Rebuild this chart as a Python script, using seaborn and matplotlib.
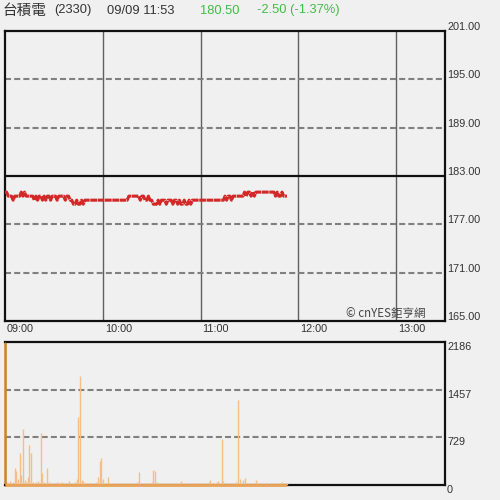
import matplotlib
matplotlib.use("Agg")
import matplotlib.pyplot as plt
import seaborn as sns
import numpy as np
import pandas as pd

sns.set_theme(style="white")
plt.rcParams['font.family'] = ['Liberation Sans', 'Noto Sans CJK TC', 'DejaVu Sans']

## 資料：09:00 起每分鐘 (0 = 09:00)
price = [
    181.0, 181.0, 180.5, 180.5, 180.5, 180.0, 180.5, 180.5, 180.5, 180.5,
    181.0, 180.5, 181.0, 180.5, 180.5, 180.5, 180.5, 180.5, 180.0, 180.5,
    180.0, 180.5, 180.5, 180.0, 180.5, 180.0, 180.5, 180.5, 180.0, 180.5,
    180.5, 180.5, 180.0, 180.5, 180.5, 180.5, 180.5, 180.0, 180.5, 180.5,
    180.0, 180.0, 179.5, 179.5, 180.0, 179.5, 179.5, 180.0, 179.5, 180.0,
    180.0, 180.0, 180.0, 180.0, 180.0, 180.0, 180.0, 180.0, 180.0, 180.0,
    180.0, 180.0, 180.0, 180.0, 180.0, 180.0, 180.0, 180.0, 180.0, 180.0,
    180.0, 180.0, 180.0, 180.0, 180.0, 180.0, 180.5, 180.5, 180.5, 180.5,
    180.5, 180.5, 180.5, 180.0, 180.5, 180.5, 180.0, 180.0, 180.5, 180.0,
    180.0, 179.5, 179.5, 179.5, 180.0, 179.5, 180.0, 180.0, 180.0, 179.5,
    180.0, 180.0, 180.0, 179.5, 180.0, 180.0, 179.5, 180.0, 179.5, 179.5,
    180.0, 179.5, 179.5, 180.0, 179.5, 180.0, 180.0, 180.0, 180.0, 180.0,
    180.0, 180.0, 180.0, 180.0, 180.0, 180.0, 180.0, 180.0, 180.0, 180.0,
    180.0, 180.0, 180.0, 180.0, 180.0, 180.5, 180.0, 180.5, 180.5, 180.0,
    180.5, 180.5, 180.5, 180.5, 180.5, 180.5, 180.5, 181.0, 180.5, 181.0,
    181.0, 180.5, 181.0, 180.5, 181.0, 181.0, 181.0, 181.0, 181.0, 181.0,
    181.0, 181.0, 181.0, 181.0, 181.0, 181.0, 180.5, 181.0, 180.5, 180.5,
    181.0, 180.5, 180.5, 180.5,
]
volume = [
    2186, 40, 25, 60, 30, 45, 260, 220, 90, 490,
    150, 850, 70, 40, 120, 611, 494, 50, 30, 45,
    60, 35, 795, 180, 40, 30, 260, 40, 25, 20,
    35, 20, 45, 30, 25, 40, 20, 30, 25, 60,
    30, 20, 25, 40, 90, 1040, 1666, 80, 60, 30,
    25, 20, 35, 30, 20, 25, 40, 120, 370, 413,
    90, 35, 25, 127, 30, 20, 25, 30, 20, 35,
    25, 20, 30, 25, 20, 25, 30, 20, 25, 30,
    20, 40, 200, 30, 20, 25, 30, 20, 25, 35,
    40, 230, 220, 40, 25, 20, 25, 30, 20, 25,
    30, 20, 25, 20, 30, 25, 20, 25, 60, 20,
    25, 30, 20, 25, 20, 35, 25, 20, 30, 25,
    20, 25, 30, 20, 25, 40, 80, 30, 25, 20,
    45, 60, 30, 703, 60, 25, 30, 20, 25, 30,
    20, 25, 40, 1300, 90, 30, 80, 100, 30, 25,
    20, 30, 25, 20, 80, 25, 20, 30, 25, 20,
    25, 30, 20, 25, 20, 30, 25, 20, 30, 25,
    50, 25, 20, 30,
]
minute = np.arange(len(price))
price_ticks = [165, 171, 177, 183, 189, 195, 201]
prev_close = 183
time_ticks = [0, 60, 120, 180, 240]
time_labels = ['09:00', '10:00', '11:00', '12:00', '13:00']
vol_ticks = [0, 729, 1457, 2186]

df = pd.DataFrame({'minute': minute, 'price': price, 'volume': volume})

bg = '#f0f0f0'
txt = '#333333'
fig = plt.figure(figsize=(5, 5), dpi=100, facecolor=bg)

## 價格圖
ax1 = fig.add_axes([0.01, 0.358, 0.88, 0.58], facecolor=bg)
for t in time_ticks[1:]:
    ax1.axvline(t, color='#606060', lw=1.0, zorder=1)
for p in price_ticks[1:-1]:
    if p == prev_close:
        ax1.axhline(p, color='#111111', lw=1.6, zorder=2)
    else:
        ax1.axhline(p, color='#808080', lw=1.5, linestyle=(0, (2.9, 1.5)), zorder=2)
sns.lineplot(data=df, x='minute', y='price', ax=ax1, color='#d42828', lw=2.2,
             linestyle=(0, (2.2, 0.2)), zorder=3)
ax1.set_xlim(0, 270)
ax1.set_ylim(165, 201)
ax1.set_xticks([])
ax1.set_yticks([])
ax1.set_xlabel('')
ax1.set_ylabel('')
for s in ax1.spines.values():
    s.set_color('#111111')
    s.set_linewidth(1.6)
for p in price_ticks:
    ax1.annotate('%.2f' % p, xy=(1, p), xycoords=('axes fraction', 'data'),
                 xytext=(2, 4), textcoords='offset pixels', ha='left', va='center',
                 fontsize=7.8, color=txt, annotation_clip=False)
for t, lab in zip(time_ticks, time_labels):
    ax1.annotate(lab, xy=(t, 0), xycoords=('data', 'axes fraction'),
                 xytext=(2, -8), textcoords='offset pixels', ha='left', va='center',
                 fontsize=7.8, color=txt, annotation_clip=False)
ax1.text(0.955, 0.025, '© cnYES鉅亨網', transform=ax1.transAxes, ha='right', va='center',
         fontsize=8.3, color='#444444', family=['Noto Sans CJK TC', 'DejaVu Sans'], zorder=5)

## 成交量圖
ax2 = fig.add_axes([0.01, 0.03, 0.88, 0.286], facecolor=bg)
for v in vol_ticks[1:-1]:
    ax2.axhline(v, color='#808080', lw=1.5, linestyle=(0, (2.9, 1.5)), zorder=1)
bar_colors = ['#c8862c'] + ['#f6bd84'] * (len(volume) - 1)
ax2.vlines(df['minute'], 0, df['volume'], colors=bar_colors, lw=1.0, zorder=3)
# 底部成交量基線
ax2.plot(df['minute'], np.zeros(len(df)), color='#eaa45a', lw=2.0, zorder=4,
         clip_on=False, solid_capstyle='butt')
ax2.set_xlim(0, 270)
ax2.set_ylim(0, 2186)
ax2.set_xticks([])
ax2.set_yticks([])
for s in ax2.spines.values():
    s.set_color('#111111')
    s.set_linewidth(1.6)
ax2.spines['left'].set_color('#c8862c')
ax2.spines['left'].set_linewidth(1.8)
for v in vol_ticks:
    ax2.annotate(str(v), xy=(1, v), xycoords=('axes fraction', 'data'),
                 xytext=(2, -5), textcoords='offset pixels', ha='left', va='center',
                 fontsize=7.8, color=txt, annotation_clip=False)

## 標題列
fig.text(0.006, 0.979, '台積電', fontsize=10.5, color=txt, va='center',
         family=['Noto Sans CJK TC', 'DejaVu Sans'])
fig.text(0.108, 0.979, '(2330)', fontsize=9.3, color=txt, va='center')
fig.text(0.214, 0.979, '09/09 11:53', fontsize=9.3, color=txt, va='center')
fig.text(0.400, 0.979, '180.50', fontsize=9.3, color='#44bb44', va='center')
fig.text(0.514, 0.979, '-2.50 (-1.37%)', fontsize=9.3, color='#44bb44', va='center')

fig.savefig('out.png', dpi=100, facecolor=bg)
